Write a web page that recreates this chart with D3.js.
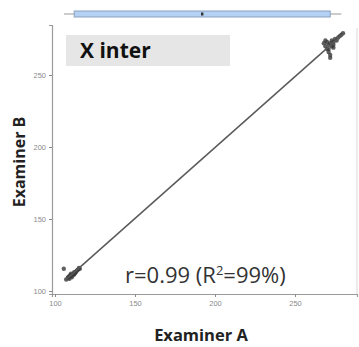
<!DOCTYPE html>
<html>
<head>
<meta charset="utf-8">
<script src="https://cdn.jsdelivr.net/npm/d3@7"></script>
<style>
  html, body { margin: 0; padding: 0; background: #fff; }
  svg { display: block; }
</style>
</head>
<body>
<svg id="chart" width="359" height="347"></svg>
<script>
// Paired measurements from the two examiners
const examinerA = [105.5, 107, 108, 108.5, 109, 109.5, 110, 110, 111, 111.5, 112, 112, 113, 113.5, 114, 114.5, 115, 115.5, 112.5, 110.5, 109,
                   268, 269, 270, 271, 272, 270, 271, 272, 273, 274, 273, 274, 275, 276, 277, 278, 279, 280, 272, 271, 269, 274];
const examinerB = [115.5, 108, 109, 110, 110, 111, 110.5, 112, 111, 112, 113, 111.5, 113, 114, 114.5, 115, 116, 115.5, 112.5, 109.5, 108.5,
                   272, 270, 268, 266, 264, 273, 271, 272, 270, 269, 274, 273, 275, 274, 276, 277, 278, 279, 262, 268, 274, 271];

// Marginal boxplot of Examiner A: min, Q1, median, Q3, max
const boxStats = [105.6, 112, 192, 272, 279];

const xTicks = [100, 150, 200, 250];
const yTicks = [100, 150, 200, 250];

const rLabel = "r=0.99";
const r2Label = "99%";
const panelLabel = "X inter";

const svg = d3.select("#chart");

const x = d3.scaleLinear().domain([98.125, 288.75]).range([52, 357]);
const y = d3.scaleLinear().domain([97.917, 284.72]).range([294, 25]);

const grey = "#8a8a8a";
const sans = "'Open Sans', 'DejaVu Sans', sans-serif";

// Axes
const xAxis = svg.append("g")
  .attr("transform", "translate(0,294)")
  .call(d3.axisBottom(x).tickValues(xTicks).tickSize(3).tickPadding(4));
const yAxis = svg.append("g")
  .attr("transform", "translate(52,0)")
  .call(d3.axisLeft(y).tickValues(yTicks).tickSize(3).tickPadding(3));

[xAxis, yAxis].forEach(g => {
  g.select(".domain").attr("stroke", "#9a9a9a").attr("stroke-width", 1.2);
  g.selectAll(".tick line").attr("stroke", "#8a8a8a");
  g.selectAll(".tick text")
    .attr("fill", grey)
    .style("font-family", "Liberation Sans, Arial, sans-serif")
    .style("font-size", "7.5px");
});

// right frame edge
svg.append("line")
  .attr("x1", 357).attr("x2", 357).attr("y1", 28).attr("y2", 294)
  .attr("stroke", "#d8d8d8").attr("stroke-width", 1);

// Panel label
svg.append("rect")
  .attr("x", 66).attr("y", 35).attr("width", 164).attr("height", 31)
  .attr("fill", "#e6e6e6");
svg.append("text")
  .attr("x", 80).attr("y", 58)
  .style("font-family", sans)
  .style("font-weight", "bold")
  .style("font-size", "21px")
  .attr("fill", "#111")
  .text(panelLabel);

// Points
svg.append("g").selectAll("circle")
  .data(examinerA.map((a, i) => [a, examinerB[i]]))
  .join("circle")
  .attr("cx", d => x(d[0]))
  .attr("cy", d => y(d[1]))
  .attr("r", 2.2)
  .attr("fill", "#3a3a3a")
  .attr("fill-opacity", 0.8);

// Least squares fit
const meanA = d3.mean(examinerA), meanB = d3.mean(examinerB);
const slope = d3.sum(examinerA, (a, i) => (a - meanA) * (examinerB[i] - meanB)) /
              d3.sum(examinerA, a => (a - meanA) * (a - meanA));
const intercept = meanB - slope * meanA;
const [minA, maxA] = d3.extent(examinerA);
svg.append("line")
  .attr("x1", x(minA + 1)).attr("y1", y(intercept + slope * (minA + 1)))
  .attr("x2", x(maxA + 1)).attr("y2", y(intercept + slope * (maxA + 1)))
  .attr("stroke", "#5a5a5a")
  .attr("stroke-width", 1.5);

// Marginal boxplot
const by = 14, bh = 6;
const box = svg.append("g");
box.append("line")
  .attr("x1", x(boxStats[0])).attr("x2", x(boxStats[4]))
  .attr("y1", by).attr("y2", by)
  .attr("stroke", "#999").attr("stroke-width", 1.2);
box.append("rect")
  .attr("x", x(boxStats[1])).attr("y", by - bh / 2)
  .attr("width", x(boxStats[3]) - x(boxStats[1])).attr("height", bh)
  .attr("fill", "#b4d0f2").attr("stroke", "#8aa0bf").attr("stroke-width", 1);
box.append("rect")
  .attr("x", x(boxStats[2]) - 1.2).attr("y", by - 1.5)
  .attr("width", 2.4).attr("height", 3)
  .attr("fill", "#333");

// Correlation annotation
const ann = svg.append("text")
  .attr("x", 125).attr("y", 283)
  .style("font-family", sans)
  .style("font-size", "22px")
  .attr("fill", "#333");
ann.append("tspan").text(rLabel + " (R");
ann.append("tspan").attr("dy", -8).style("font-size", "13px").text("2");
ann.append("tspan").attr("dy", 8).text("=" + r2Label + ")");

// Axis titles
svg.append("text")
  .attr("x", 201).attr("y", 341)
  .attr("text-anchor", "middle")
  .style("font-family", sans)
  .style("font-weight", "bold")
  .style("font-size", "16.5px")
  .attr("fill", "#222")
  .text("Examiner A");
svg.append("text")
  .attr("transform", "translate(25,162) rotate(-90)")
  .attr("text-anchor", "middle")
  .style("font-family", sans)
  .style("font-weight", "bold")
  .style("font-size", "16px")
  .attr("fill", "#222")
  .text("Examiner B");
</script>
</body>
</html>
